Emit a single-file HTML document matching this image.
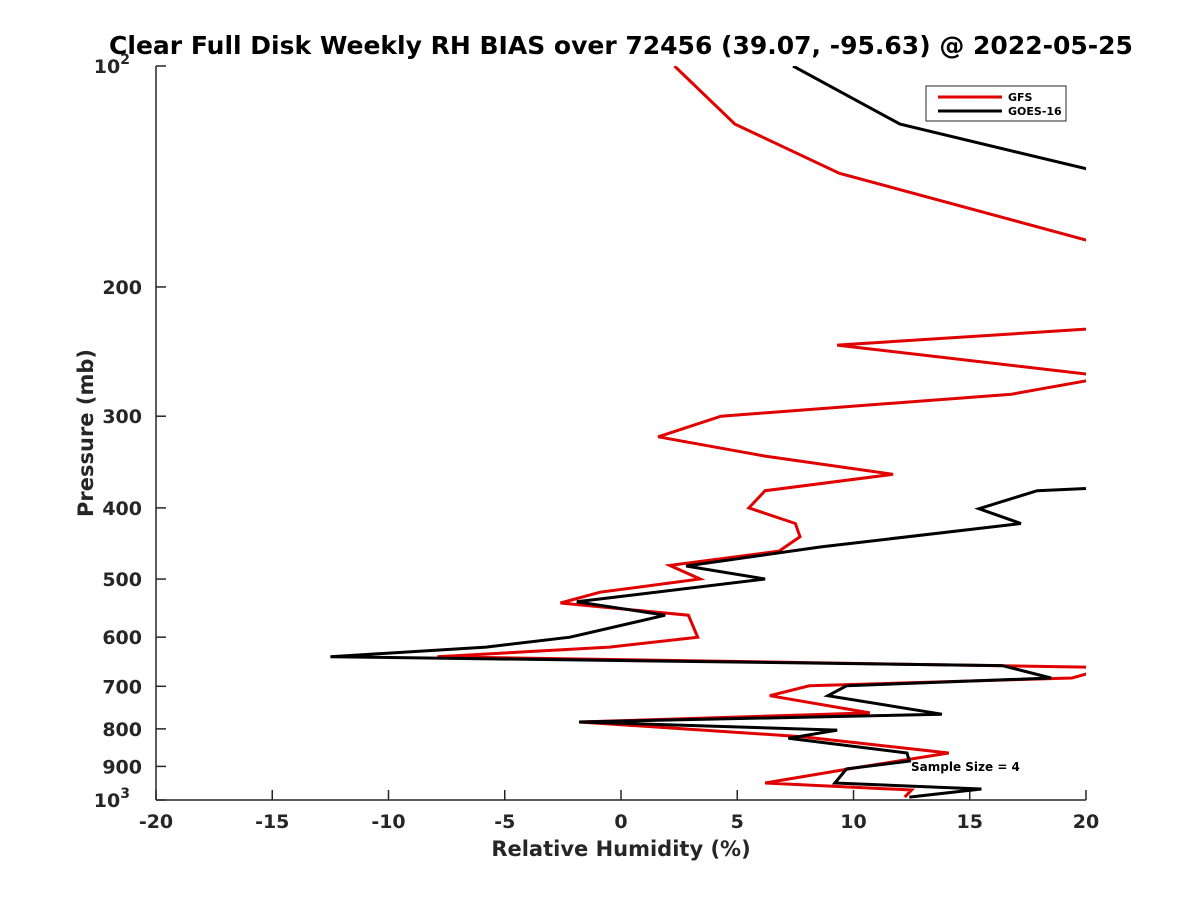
<!DOCTYPE html>
<html><head><meta charset="utf-8"><style>
body{margin:0;background:#fff}
svg text{font-family:"DejaVu Sans","Liberation Sans",sans-serif;font-weight:bold}
</style></head><body>
<svg id="chart" width="1200" height="900" viewBox="0 0 1200 900" xmlns="http://www.w3.org/2000/svg">
<rect width="1200" height="900" fill="#fff"/>
<defs><clipPath id="clip"><rect x="156" y="66" width="930" height="734"/></clipPath></defs>
<text x="621" y="54" text-anchor="middle" font-size="25" fill="#000">Clear Full Disk Weekly RH BIAS over 72456 (39.07, -95.63) @ 2022-05-25</text>
<g id="axes"></g>
<g id="series" clip-path="url(#clip)"></g>
<text x="621" y="856" text-anchor="middle" font-size="21" fill="#262626">Relative Humidity (%)</text>
<text transform="translate(93,433) rotate(-90)" text-anchor="middle" font-size="21" fill="#262626">Pressure (mb)</text>
<g>
<rect x="926" y="86" width="140" height="35" fill="#fff" stroke="#262626" stroke-width="1"/>
<line x1="938" y1="97" x2="1002" y2="97" stroke="#e00000" stroke-width="3"/>
<text x="1008" y="101" font-size="11" fill="#000">GFS</text>
<line x1="938" y1="111" x2="1002" y2="111" stroke="#000" stroke-width="3"/>
<text x="1008" y="115" font-size="11" fill="#000">GOES-16</text>
</g>
<text x="911" y="771" font-size="12" fill="#000">Sample Size = 4</text>
</svg>
<script>
const xTicks=[-20,-15,-10,-5,0,5,10,15,20];
const yTicks=[100,200,300,400,500,600,700,800,900,1000];
const yTickLabels=["10²","200","300","400","500","600","700","800","900","10³"];
const gfsRH=[2.3,4.9,9.4,20,26,9.3,21,16.8,4.3,1.6,6.2,11.7,6.2,5.5,7.5,7.7,6.8,2.1,3.4,-0.9,-2.6,2.9,3.3,-0.5,-7.9,21,19.4,8.1,6.4,10.7,-1.8,7.8,14.1,9.8,6.2,12.5,12.2];
const gfsP=[100,120,140,172.6,222,240,265,280,300,320,340,360,379,400,420,438,458,479,500,521,539,560,600,619,638,660,682,699,721,761,783,820,863,907,948,969,991];
const goesRH=[7.4,12.0,20,40,25,17.9,15.4,17.2,8.6,2.8,6.2,-1.9,1.9,-2.2,-5.8,-12.5,16.4,18.5,9.7,8.9,13.8,-1.8,9.3,7.2,12.3,12.4,9.7,9.2,15.5,12.4];
const goesP=[100,120,138,250,370,379,401,420,452,480,500,537,560,600,619,638,656,682,699,721,764,783,803,824,863,885,907,948,966,991];
const L=156,R=1086,T=66,B=800;
function xs(v){return L+(v+20)/40*(R-L);}
function ys(p){return T+(Math.log10(p)-2)*(B-T);}
const NS="http://www.w3.org/2000/svg";
const ax=document.getElementById('axes'),sg=document.getElementById('series');
function mk(tag,attrs,parent){const e=document.createElementNS(NS,tag);for(const k in attrs)e.setAttribute(k,attrs[k]);parent.appendChild(e);return e;}
const c="#262626";
let e=mk('line',{x1:L,y1:T,x2:L,y2:B,stroke:c,'stroke-width':1.5},ax);


e=mk('line',{x1:L,y1:B,x2:R,y2:B,stroke:c,'stroke-width':1.5},ax);


xTicks.forEach(v=>{
  const x=xs(v);
  const t=mk('line',{x1:x,y1:B,x2:x,y2:B-10,stroke:c,'stroke-width':1.5},ax);
  
  
  const tx=mk('text',{x:x,y:B+28,'text-anchor':'middle','font-size':19,fill:c},ax);
  tx.textContent=String(v);
  
  
});
yTicks.forEach((p,i)=>{
  const y=ys(p);
  const t=mk('line',{x1:L,y1:y,x2:L+10,y2:y,stroke:c,'stroke-width':1.5},ax);
  
  
  const tx=mk('text',{x:L-14,y:y+7,'text-anchor':'end','font-size':19,fill:c},ax);
  const lab=yTickLabels[i];
  if(lab.length==3&&lab.startsWith('10')&&isNaN(+lab)){
    tx.textContent='10';
    const s=mk('tspan',{dy:-9,'font-size':14},tx);s.textContent=lab==='10²'?'2':'3';
    tx.setAttribute('x',L-26);
  } else tx.textContent=lab;
  
  
});
function line(rh,p,color,name){
  const pts=rh.map((v,i)=>xs(v).toFixed(1)+','+ys(p[i]).toFixed(1)).join(' ');
  const pl=mk('polyline',{points:pts,fill:'none',stroke:color,'stroke-width':3,'stroke-linejoin':'miter'},sg);
  
  
}
line(gfsRH,gfsP,'#e00000','gfs-line');
line(goesRH,goesP,'#000','goes16-line');
</script>
</body></html>
